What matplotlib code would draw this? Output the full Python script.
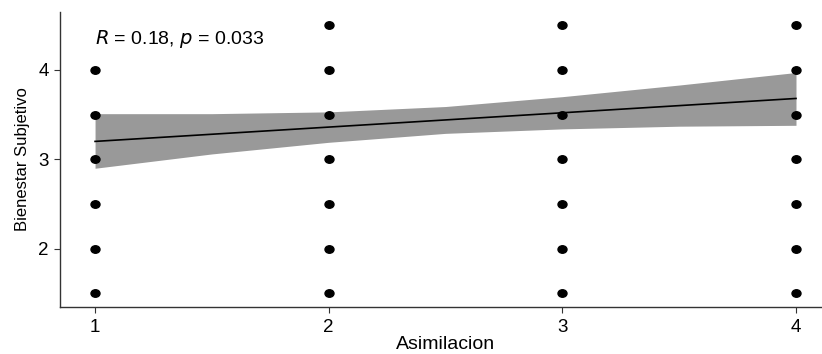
import matplotlib.pyplot as plt
from matplotlib.path import Path
from matplotlib.transforms import Affine2D

plt.rcParams['font.family'] = ['Liberation Sans', 'DejaVu Sans']

# scatter points (Asimilacion, Bienestar Subjetivo)
x_points = [1, 1, 1, 1, 1, 1,
            2, 2, 2, 2, 2, 2, 2,
            3, 3, 3, 3, 3, 3, 3,
            4, 4, 4, 4, 4, 4, 4]
y_points = [1.5, 2, 2.5, 3, 3.5, 4,
            1.5, 2, 2.5, 3, 3.5, 4, 4.5,
            1.5, 2, 2.5, 3, 3.5, 4, 4.5,
            1.5, 2, 2.5, 3, 3.5, 4, 4.5]

# fitted line and confidence band
fit_x = [1, 1.5, 2, 2.5, 3, 3.5, 4]
fit_y = [3.20, 3.28, 3.36, 3.44, 3.52, 3.60, 3.68]
ci_low = [2.90, 3.06, 3.19, 3.29, 3.34, 3.37, 3.38]
ci_high = [3.51, 3.51, 3.53, 3.59, 3.70, 3.83, 3.97]

x_ticks = [1, 2, 3, 4]
y_ticks = [2, 3, 4]
stat_label = "$\\mathit{R}$ = 0.18, $\\mathit{p}$ = 0.033"

# the reference dots are a bit wider than tall
dot = Path.unit_circle().transformed(Affine2D().scale(1.2, 1.0))

fig = plt.figure(figsize=(8.22, 3.54), dpi=100)
ax = fig.add_axes([0.073, 0.133, 0.938, 0.834])

ax.fill_between(fit_x, ci_low, ci_high, color="#999999", linewidth=0, zorder=1)
ax.plot(fit_x, fit_y, color="black", linewidth=1.2, zorder=2)
ax.scatter(x_points, y_points, s=42, marker=dot, color="black", zorder=3)

ax.text(1.0, 4.34, stat_label, fontsize=14, va="center", ha="left",
        family=['Liberation Sans', 'DejaVu Sans'])

ax.set_xlim(0.85, 4.15)
ax.set_ylim(1.35, 4.65)
ax.set_xticks(x_ticks)
ax.set_yticks(y_ticks)
ax.set_xticklabels([str(v) for v in x_ticks])
ax.set_yticklabels([str(v) for v in y_ticks])

for side in ["top", "right"]:
    ax.spines[side].set_visible(False)
for side in ["left", "bottom"]:
    ax.spines[side].set_color("#333333")
    ax.spines[side].set_linewidth(1.0)

ax.tick_params(axis="both", length=4, width=0.8, color="#333333",
               labelsize=13.5, labelcolor="black")
ax.tick_params(axis="x", pad=5)
ax.tick_params(axis="y", pad=4)

ax.set_xlabel("Asimilacion", fontsize=14, labelpad=0)
ax.set_ylabel("Bienestar Subjetivo", fontsize=12, labelpad=6)

fig.savefig("out.png", dpi=100)
